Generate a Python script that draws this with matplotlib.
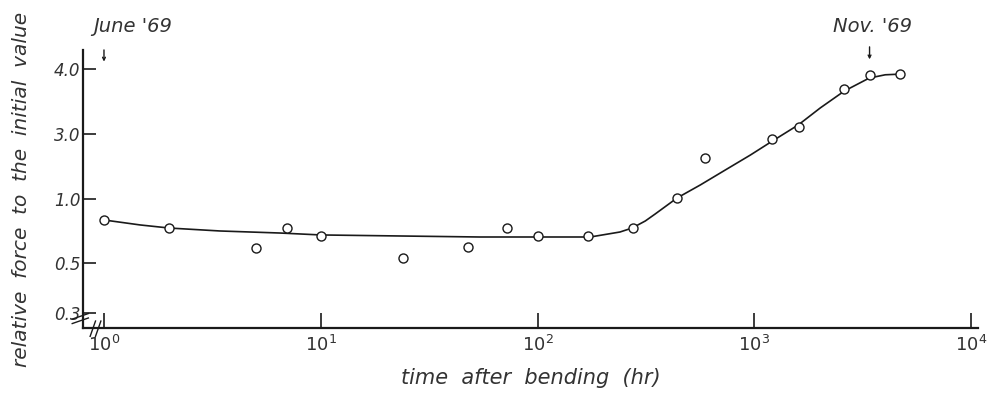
import numpy as np
import matplotlib
matplotlib.use('Agg')
import matplotlib.pyplot as plt
from matplotlib.ticker import NullLocator, FixedLocator

# measured points: time after bending (hr) and relative force
t_pts = [1.0, 2.0, 5.0, 7.0, 10, 24, 48, 72, 100, 170, 275, 440, 590, 1200, 1600, 2600, 3400, 4700]
f_pts = [0.836, 0.773, 0.617, 0.773, 0.711, 0.539, 0.625, 0.773, 0.711, 0.711, 0.773, 1.03, 2.26, 2.85, 3.11, 3.69, 3.91, 3.92]

# hand-drawn fitted curve
t_fit = [1.0, 1.47, 2.0, 3.43, 6.5, 10, 23, 54, 100, 175, 240, 273, 314, 349, 440, 563, 734,
         958, 1210, 1597, 2014, 2600, 3390, 4018, 4700]
f_fit = [0.836, 0.797, 0.773, 0.75, 0.734, 0.719, 0.711, 0.703, 0.703, 0.703, 0.742, 0.773,
         0.828, 0.883, 1.03, 1.43, 1.89, 2.35, 2.78, 3.14, 3.40, 3.66, 3.86, 3.91, 3.92]

y_ticks = [0.3, 0.5, 1.0, 3.0, 4.0]
x_ticks = [1, 10, 100, 1000, 10000]

# the original y axis is not a standard scale; spacing of the ticks
y_anchor_val = [0.2, 0.3, 0.5, 1.0, 3.0, 4.0, 4.3]
y_anchor_pos = [-15, 0, 50, 114, 179, 244, 263]

def fwd(v):
    return np.interp(v, y_anchor_val, y_anchor_pos)

def inv(p):
    return np.interp(p, y_anchor_pos, y_anchor_val)

fig = plt.figure(figsize=(9.96, 3.95), dpi=100)
ax = fig.add_axes([0.0833, 0.1696, 0.899, 0.704])

ink = '#1a1a1a'
txt = '#333333'
ax.plot(t_fit, f_fit, '-', color=ink, lw=1.2)
ax.plot(t_pts, f_pts, 'o', mfc='white', mec=ink, mew=1.0, ms=6.5, zorder=3)

ax.set_xscale('log')
ax.set_yscale('function', functions=(fwd, inv))
ax.set_xlim(0.8, 10800)
ax.set_ylim(0.2, 4.3)

ax.xaxis.set_major_locator(FixedLocator(x_ticks))
ax.xaxis.set_minor_locator(NullLocator())
ax.yaxis.set_major_locator(FixedLocator(y_ticks))
ax.yaxis.set_minor_locator(NullLocator())
ax.set_xticklabels([r'$\mathit{10^{%d}}$' % k for k in range(5)])
ax.set_yticklabels(['0.3', '0.5', '1.0', '3.0', '4.0'])

for s in ['top', 'right']:
    ax.spines[s].set_visible(False)
for s in ['left', 'bottom']:
    ax.spines[s].set_linewidth(1.6)
    ax.spines[s].set_color(ink)

ax.tick_params(axis='both', direction='in', width=1.2, colors=ink, labelsize=12)
ax.tick_params(axis='y', length=9, pad=2)
ax.tick_params(axis='x', length=11, pad=5, labelsize=13)
for lb in ax.get_yticklabels():
    lb.set_fontstyle('italic')
    lb.set_color(txt)
for lb in ax.get_xticklabels():
    lb.set_color(txt)

ax.set_xlabel('time  after  bending  (hr)', fontsize=15, fontstyle='italic',
              color=txt, labelpad=9)
ax.set_ylabel('relative  force  to  the  initial  value', fontsize=14.5,
              fontstyle='italic', color=txt)
ax.yaxis.set_label_coords(-0.058, 0.5)

# axis break marks
for yb in [0.028, 0.044]:
    ax.plot([-0.012, 0.006], [yb - 0.012, yb + 0.008], transform=ax.transAxes,
            color=ink, lw=1.0, clip_on=False)
for xb in [0.011, 0.017]:
    ax.plot([xb - 0.003, xb + 0.003], [-0.03, 0.025], transform=ax.transAxes,
            color=ink, lw=1.0, clip_on=False)

# date annotations
xt = ax.get_xaxis_transform()
ax.text(1.35, 1.086, "June '69", transform=xt, fontsize=14, fontstyle='italic',
        color=txt, ha='center', va='center')
ax.text(3500, 1.086, "Nov. '69", transform=xt, fontsize=14, fontstyle='italic',
        color=txt, ha='center', va='center')
for xa, ytop, ybot in [(1.0, 1.0, 0.958), (3400, 1.011, 0.966)]:
    ax.annotate('', xy=(xa, ybot), xytext=(xa, ytop), xycoords=xt, textcoords=xt,
                arrowprops=dict(arrowstyle='->', color=ink, lw=1.0, mutation_scale=5,
                                shrinkA=0, shrinkB=0),
                annotation_clip=False)

fig.savefig('out.png', dpi=100)
